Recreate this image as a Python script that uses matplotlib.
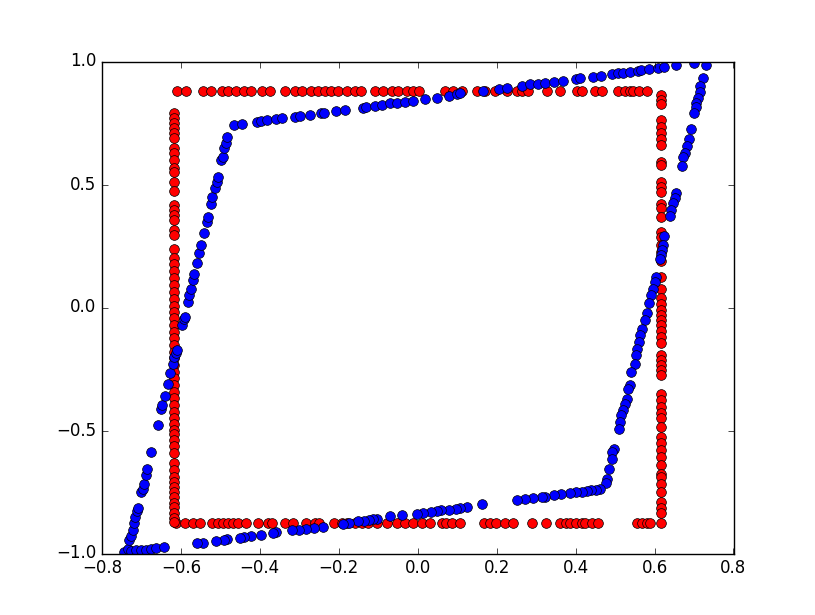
import numpy as np
import matplotlib
matplotlib.use('Agg')
import matplotlib.pyplot as plt

# red square: edge positions and where the points sit along each edge
red_left = -0.618
red_right = 0.616
red_top = 0.879
red_bottom = -0.877

red_top_x = [-0.610, -0.588, -0.545, -0.524, -0.496, -0.481, -0.459, -0.440, -0.423,
             -0.395, -0.373, -0.335, -0.312, -0.292, -0.269, -0.252, -0.236, -0.219,
             -0.201, -0.178, -0.160, -0.143, -0.107, -0.087, -0.064, -0.049, -0.027,
             -0.011, 0.004, 0.069, 0.090, 0.112, 0.150, 0.171, 0.196, 0.226, 0.251,
             0.264, 0.279, 0.327, 0.360, 0.403, 0.416, 0.448, 0.468, 0.508, 0.526,
             0.537, 0.545, 0.561, 0.582]
red_bottom_x = [-0.613, -0.590, -0.570, -0.552, -0.522, -0.507, -0.494, -0.481, -0.469,
                -0.454, -0.436, -0.405, -0.380, -0.370, -0.335, -0.315, -0.284, -0.261,
                -0.249, -0.213, -0.191, -0.178, -0.160, -0.140, -0.125, -0.102, -0.077,
                -0.052, -0.032, -0.011, 0.011, 0.032, 0.062, 0.072, 0.087, 0.107, 0.168,
                0.183, 0.198, 0.221, 0.241, 0.289, 0.325, 0.360, 0.375, 0.385, 0.400,
                0.416, 0.423, 0.441, 0.457, 0.555, 0.567, 0.582, 0.589]
red_left_y = [0.791, 0.770, 0.750, 0.730, 0.709, 0.689, 0.648, 0.628, 0.599, 0.567,
              0.551, 0.510, 0.473, 0.416, 0.396, 0.375, 0.355, 0.314, 0.294, 0.237,
              0.201, 0.176, 0.148, 0.119, 0.091, 0.062, 0.034, 0.005, -0.019, -0.044,
              -0.072, -0.101, -0.125, -0.153, -0.182, -0.206, -0.235, -0.263, -0.288,
              -0.316, -0.345, -0.369, -0.398, -0.426, -0.450, -0.475, -0.496, -0.516,
              -0.540, -0.564, -0.593, -0.634, -0.662, -0.691, -0.711, -0.731, -0.752,
              -0.772, -0.793, -0.813, -0.837, -0.854, -0.870]
red_right_y = [0.864, 0.844, 0.827, 0.762, 0.734, 0.709, 0.685, 0.660, 0.591, 0.579,
               0.510, 0.489, 0.469, 0.420, 0.404, 0.367, 0.306, 0.286, 0.253, 0.225,
               0.188, 0.123, 0.074, 0.038, 0.013, -0.011, -0.031, -0.052, -0.072,
               -0.096, -0.121, -0.145, -0.194, -0.214, -0.235, -0.255, -0.275, -0.353,
               -0.377, -0.406, -0.430, -0.450, -0.487, -0.528, -0.552, -0.581, -0.609,
               -0.642, -0.678, -0.691, -0.719, -0.752, -0.792, -0.817, -0.837, -0.877]

# blue loop, read point by point
blue_x = [-0.743, -0.735, -0.726, -0.714, -0.701, -0.689, -0.676, -0.663, -0.642,
          -0.731, -0.726, -0.722, -0.718, -0.715, -0.711, -0.709, -0.701, -0.697, -0.693,
          -0.689, -0.685, -0.676, -0.658, -0.651, -0.648, -0.641, -0.632, -0.627, -0.621,
          -0.617, -0.613, -0.610, -0.596, -0.592, -0.589, -0.582, -0.579, -0.573, -0.569,
          -0.566, -0.558, -0.554, -0.548, -0.541, -0.533, -0.531, -0.524, -0.520, -0.514,
          -0.509, -0.506, -0.497, -0.494, -0.491, -0.486, -0.482,
          -0.465, -0.444, -0.406, -0.396, -0.381, -0.360, -0.343, -0.310, -0.297, -0.272,
          -0.246, -0.238, -0.208, -0.185, -0.139, -0.130, -0.107, -0.090, -0.070, -0.053,
          -0.032, -0.011, 0.019, 0.050, 0.080, 0.099, 0.107, 0.166, 0.207, 0.227, 0.263,
          0.284, 0.304, 0.322, 0.345, 0.367, 0.400, 0.412, 0.444, 0.465, 0.493, 0.507,
          0.520, 0.537, 0.558, 0.566, 0.587, 0.608, 0.624, 0.655, 0.699, 0.731,
          0.722, 0.716, 0.714, 0.709, 0.706, 0.704, 0.701, 0.692, 0.687, 0.681, 0.677,
          0.673, 0.670, 0.654, 0.651, 0.646, 0.642, 0.638, 0.625, 0.621, 0.620, 0.617,
          0.615, 0.604, 0.600, 0.596, 0.592, 0.586, 0.581, 0.575, 0.569, 0.564, 0.560,
          0.555, 0.552, 0.550, 0.541, 0.537, 0.533, 0.529, 0.524, 0.520, 0.516, 0.512,
          0.509, 0.497, 0.493, 0.491, 0.485, 0.480, 0.478,
          0.461, 0.451, 0.440, 0.428, 0.417, 0.402, 0.385, 0.364, 0.345, 0.322, 0.314,
          0.293, 0.272, 0.252, 0.162, 0.126, 0.106, 0.097, 0.080, 0.059, 0.050, 0.033,
          0.013, -0.002, -0.040, -0.070, -0.103, -0.112, -0.124, -0.137, -0.150, -0.175,
          -0.188, -0.240, -0.263, -0.284, -0.301, -0.318, -0.360, -0.366, -0.396, -0.423,
          -0.440, -0.450, -0.482, -0.491, -0.512, -0.545, -0.558]
blue_y = [-0.995, -0.981, -0.988, -0.985, -0.985, -0.985, -0.981, -0.978, -0.974,
          -0.947, -0.927, -0.906, -0.874, -0.853, -0.829, -0.817, -0.750, -0.737, -0.716,
          -0.682, -0.658, -0.589, -0.479, -0.411, -0.398, -0.361, -0.309, -0.267, -0.228,
          -0.201, -0.185, -0.174, -0.072, -0.045, -0.038, 0.023, 0.050, 0.077, 0.111,
          0.136, 0.179, 0.220, 0.254, 0.304, 0.348, 0.369, 0.420, 0.450, 0.484,
          0.511, 0.531, 0.599, 0.613, 0.647, 0.667, 0.692,
          0.741, 0.746, 0.753, 0.758, 0.762, 0.766, 0.769, 0.773, 0.778, 0.784,
          0.789, 0.792, 0.799, 0.803, 0.810, 0.814, 0.819, 0.823, 0.830, 0.833,
          0.837, 0.840, 0.848, 0.853, 0.860, 0.867, 0.871, 0.880, 0.887, 0.892, 0.902,
          0.908, 0.910, 0.914, 0.918, 0.922, 0.929, 0.933, 0.938, 0.942, 0.949, 0.952,
          0.955, 0.958, 0.962, 0.966, 0.970, 0.973, 0.978, 0.986, 0.993, 0.987,
          0.932, 0.901, 0.874, 0.850, 0.831, 0.815, 0.789, 0.725, 0.686, 0.656, 0.630,
          0.612, 0.576, 0.464, 0.444, 0.423, 0.396, 0.373, 0.289, 0.254, 0.233, 0.213,
          0.199, 0.125, 0.104, 0.077, 0.050, 0.018, -0.024, -0.052, -0.086, -0.113, -0.140,
          -0.167, -0.194, -0.228, -0.262, -0.316, -0.330, -0.370, -0.391, -0.418, -0.438,
          -0.466, -0.492, -0.574, -0.589, -0.615, -0.655, -0.696, -0.714,
          -0.737, -0.741, -0.743, -0.746, -0.748, -0.750, -0.754, -0.757, -0.764, -0.771,
          -0.771, -0.773, -0.777, -0.781, -0.800, -0.811, -0.814, -0.821, -0.822, -0.825,
          -0.828, -0.832, -0.834, -0.838, -0.845, -0.849, -0.859, -0.860, -0.862, -0.866,
          -0.868, -0.877, -0.879, -0.893, -0.897, -0.902, -0.903, -0.906, -0.913, -0.916,
          -0.924, -0.929, -0.934, -0.936, -0.943, -0.947, -0.950, -0.956, -0.958]

red_x = np.concatenate([red_top_x, red_bottom_x,
                        np.full(len(red_left_y), red_left), np.full(len(red_right_y), red_right)])
red_y = np.concatenate([np.full(len(red_top_x), red_top), np.full(len(red_bottom_x), red_bottom),
                        red_left_y, red_right_y])

plt.style.use('classic')
fig = plt.figure(figsize=(8.15, 6.15), dpi=100)
ax = fig.add_subplot(111)
ax.plot(red_x, red_y, 'o', color='r', markersize=7, markeredgecolor='k', markeredgewidth=0.5)
ax.plot(blue_x, blue_y, 'o', color='b', markersize=7, markeredgecolor='k', markeredgewidth=0.5)
ax.set_xlim(-0.8, 0.8)
ax.set_ylim(-1.0, 1.0)
ax.set_xticks(np.arange(-0.8, 0.81, 0.2))
ax.set_yticks([-1.0, -0.5, 0.0, 0.5, 1.0])
fig.savefig('out.png', dpi=100, facecolor='w')
